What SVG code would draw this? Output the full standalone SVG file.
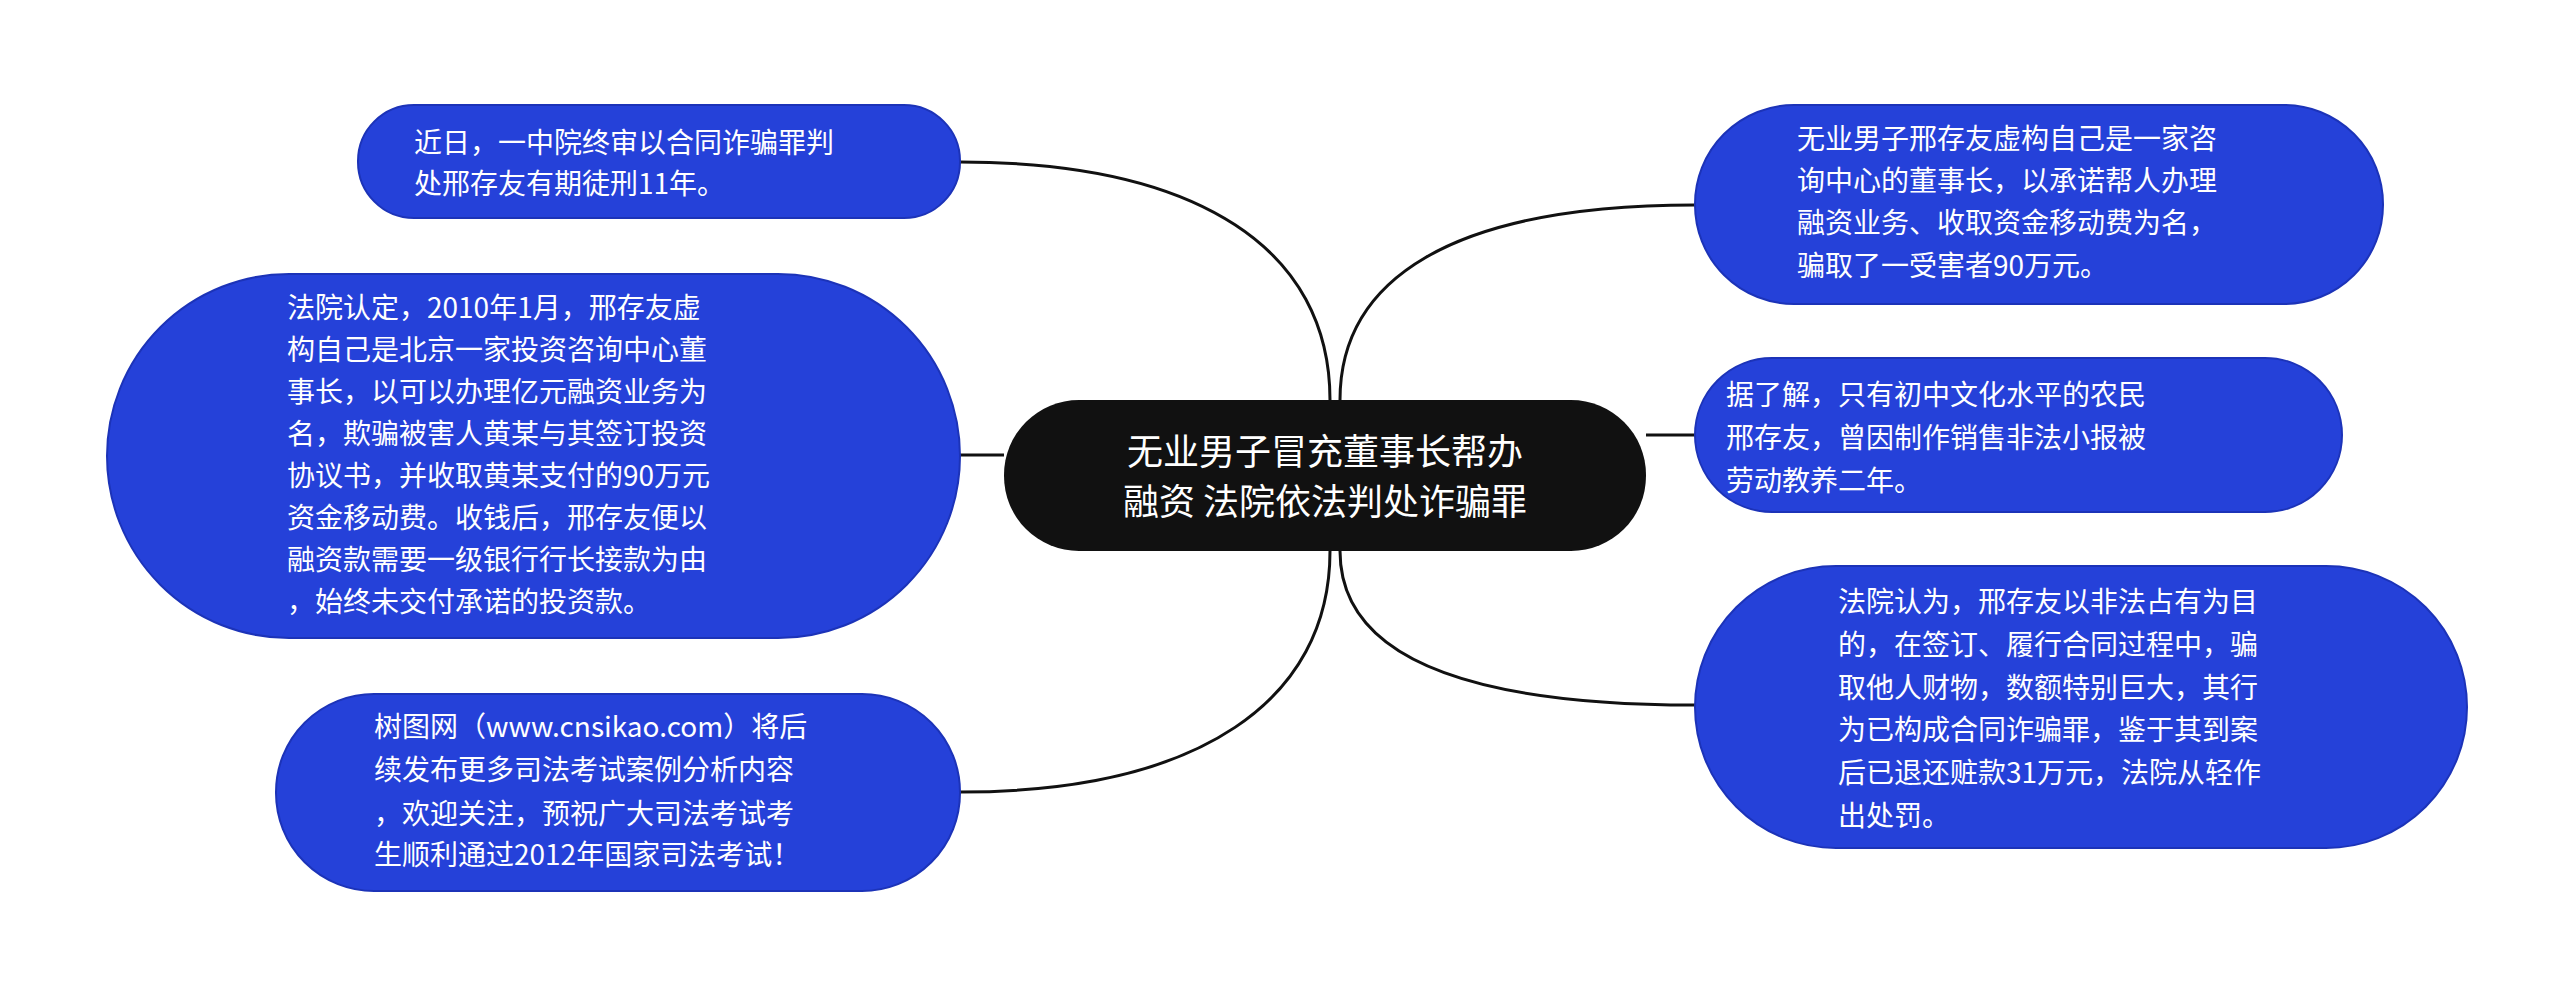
<svg xmlns="http://www.w3.org/2000/svg" width="2560" height="991" viewBox="0 0 2560 991">
<style>
.n{fill:#2541d9;stroke:#1c33b8;stroke-width:2}
.t{font-family:"Noto Sans CJK SC","Liberation Sans",sans-serif;font-size:28px;fill:#fff}
.c{fill:none;stroke:#111;stroke-width:3}
</style>
<rect width="2560" height="991" fill="#fff"/>
<g id="connectors">
<path class="c" d="M960,162 C1200,162 1330,250 1330,400"/>
<path class="c" d="M960,455 L1004,455"/>
<path class="c" d="M960,792 C1200,792 1330,700 1330,551"/>
<path class="c" d="M1695,205 C1450,205 1340,280 1340,400"/>
<path class="c" d="M1646,435 L1695,435"/>
<path class="c" d="M1695,705 C1450,705 1340,650 1340,551"/>
</g>
<g id="center">
<rect x="1004" y="400" width="642" height="151" rx="75" fill="#111"/>
<text class="t" style="font-size:36px" text-anchor="middle"><tspan x="1325" y="465">无业男子冒充董事长帮办</tspan><tspan x="1325" y="515">融资 法院依法判处诈骗罪</tspan></text>
</g>
<g id="n1"><rect class="n" x="358" y="105" width="602" height="113" rx="56"/>
<text class="t"><tspan x="414" y="153">近日，一中院终审以合同诈骗罪判</tspan><tspan x="414" y="194">处邢存友有期徒刑11年。</tspan></text></g>
<g id="n2"><rect class="n" x="107" y="274" width="853" height="364" rx="182"/>
<text class="t"><tspan x="287" y="318">法院认定，2010年1月，邢存友虚</tspan><tspan x="287" y="360">构自己是北京一家投资咨询中心董</tspan><tspan x="287" y="402">事长，以可以办理亿元融资业务为</tspan><tspan x="287" y="444">名，欺骗被害人黄某与其签订投资</tspan><tspan x="287" y="486">协议书，并收取黄某支付的90万元</tspan><tspan x="287" y="528">资金移动费。收钱后，邢存友便以</tspan><tspan x="287" y="570">融资款需要一级银行行长接款为由</tspan><tspan x="287" y="612">，始终未交付承诺的投资款。</tspan></text></g>
<g id="n3"><rect class="n" x="276" y="694" width="684" height="197" rx="98"/>
<text class="t"><tspan x="374" y="737">树图网（www.cnsikao.com）将后</tspan><tspan x="374" y="780">续发布更多司法考试案例分析内容</tspan><tspan x="374" y="824">，欢迎关注，预祝广大司法考试考</tspan><tspan x="374" y="865">生顺利通过2012年国家司法考试！</tspan></text></g>
<g id="n4"><rect class="n" x="1695" y="105" width="688" height="199" rx="99"/>
<text class="t"><tspan x="1797" y="149">无业男子邢存友虚构自己是一家咨</tspan><tspan x="1797" y="191">询中心的董事长，以承诺帮人办理</tspan><tspan x="1797" y="233">融资业务、收取资金移动费为名，</tspan><tspan x="1797" y="276">骗取了一受害者90万元。</tspan></text></g>
<g id="n5"><rect class="n" x="1695" y="358" width="647" height="154" rx="77"/>
<text class="t"><tspan x="1726" y="405">据了解，只有初中文化水平的农民</tspan><tspan x="1726" y="448">邢存友，曾因制作销售非法小报被</tspan><tspan x="1726" y="491">劳动教养二年。</tspan></text></g>
<g id="n6"><rect class="n" x="1695" y="566" width="772" height="282" rx="141"/>
<text class="t"><tspan x="1838" y="612">法院认为，邢存友以非法占有为目</tspan><tspan x="1838" y="655">的，在签订、履行合同过程中，骗</tspan><tspan x="1838" y="698">取他人财物，数额特别巨大，其行</tspan><tspan x="1838" y="740">为已构成合同诈骗罪，鉴于其到案</tspan><tspan x="1838" y="783">后已退还赃款31万元，法院从轻作</tspan><tspan x="1838" y="826">出处罚。</tspan></text></g>
</svg>
